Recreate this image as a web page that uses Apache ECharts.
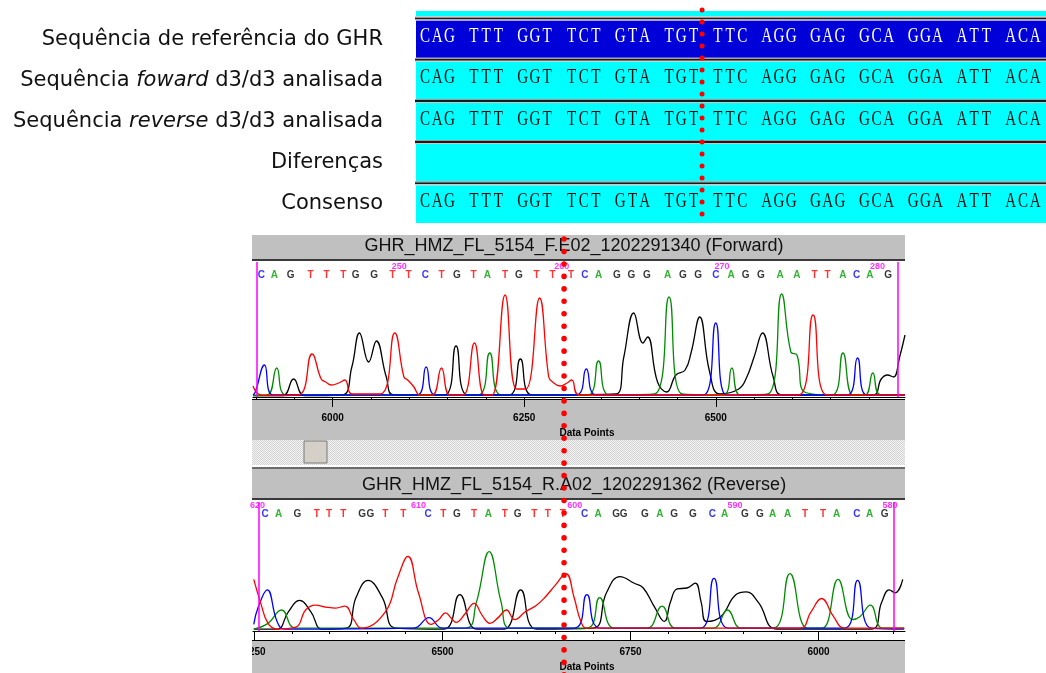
<!DOCTYPE html>
<html><head><meta charset="utf-8">
<script src="https://cdn.jsdelivr.net/npm/echarts@6/dist/echarts.min.js"></script>
<style>html,body{margin:0;padding:0;background:#fff}#c{width:1046px;height:673px}</style>
</head><body><div id="c"></div>
<script>
// ---------------- DATA ----------------
const rowLabels = [
  "Sequência de referência do GHR",
  "Sequência {i|foward} d3/d3 analisada",
  "Sequência {i|reverse} d3/d3 analisada",
  "Diferenças",
  "Consenso"
];
const rowSequences = [
  "CAG TTT GGT TCT GTA TGT TTC AGG GAG GCA GGA ATT ACA",
  "CAG TTT GGT TCT GTA TGT TTC AGG GAG GCA GGA ATT ACA",
  "CAG TTT GGT TCT GTA TGT TTC AGG GAG GCA GGA ATT ACA",
  "",
  "CAG TTT GGT TCT GTA TGT TTC AGG GAG GCA GGA ATT ACA"
];
const alignMarkCol = 23.2;          // column of the red dotted marker in the alignment

const fwdTitle = "GHR_HMZ_FL_5154_F.E02_1202291340 (Forward)";
const revTitle = "GHR_HMZ_FL_5154_R.A02_1202291362 (Reverse)";
const axisName = "Data Points";

const fwdRange = [5896, 6747];
const revRange = [6248, 7115];
const fwdTickValues = [6000, 6250, 6500];
const fwdTickLabels = ["6000", "6250", "6500"];
const revTickValues = [6250, 6500, 6750, 7000];
const revTickLabels = ["6250", "6500", "6750", "6000"];
const fwdMinorTicks = [5900,5950,6000,6050,6100,6150,6200,6250,6300,6350,6400,6450,6500,6550,6600,6650,6700];
const revMinorTicks = [6250,6300,6350,6400,6450,6500,6550,6600,6650,6700,6750,6800,6850,6900,6950,7000,7050,7100];
const fwdBoundaries = [5901, 6738];
const revBoundaries = [6255, 7100];
const fwdMarkDp = 6302;

const fwdBases = "CAGTTTGGTTCTGTATGTTTCAGGGAGGCAGGAATTACAG";
const fwdBasePos = [5907,5924,5945,5971,5992,6014,6030,6054,6078,6099,
                    6121,6142,6162,6184,6202,6225,6243,6266,6287,6311,
                    6329,6347,6371,6390,6410,6437,6457,6477,6500,6520,
                    6539,6559,6584,6606,6629,6646,6666,6684,6701,6725];
const fwdNumLabels = ["250","260","270","280"];
const fwdNumPos = [6087, 6299, 6508, 6711];

const revBases = "CAGTTTGGTTCTGTATGTTTCAGGGAGGCAGGAATTACAG";
const revBasePos = [6264,6282,6307,6333,6349,6368,6393,6404,6424,6448,
                    6481,6501,6519,6542,6561,6583,6600,6622,6640,6660,
                    6689,6707,6731,6741,6769,6789,6808,6833,6859,6875,
                    6902,6922,6939,6959,6982,7006,7024,7051,7068,7088];
const revNumLabels = ["620","610","600","590","580"];
const revNumPos = [6254, 6468, 6676, 6889, 7095];

// Forward traces [data point, signal]
const fwdG = [[5896,1.5],[5935,1.5],[5949,18],[5963,1.5],[6012,2],[6025,30],[6035,64],[6047,35],[6057,56],[6070,20],[6080,2],[6146,2],[6161,51],[6176,2],[6230,2],[6245,38],[6260,2],[6370,3],[6380,40],[6393,84],[6405,54],[6411,60],[6424,15],[6436,5],[6448,22],[6460,27],[6468,45],[6479,80],[6492,25],[6505,3],[6530,8],[6540,19],[6550,40],[6561,64],[6575,20],[6587,2],[6705,2],[6716,18],[6724,22],[6732,20],[6740,40],[6747,62]];
const fwdT = [[5896,11],[5903,3],[5912,1.5],[5955,2],[5973,43],[5985,18],[5991,15],[5998,12],[6008,14],[6016,17],[6025,3],[6062,3],[6081,64],[6093,20],[6098,17],[6106,10],[6114,2],[6130,2],[6142,29],[6153,2],[6170,2],[6185,54],[6198,2],[6208,2],[6225,102],[6240,8],[6252,8],[6270,99],[6282,20],[6287,15],[6297,11],[6306,14],[6312,17],[6322,2],[6608,2],[6627,82],[6645,2],[6747,2]];
const fwdA = [[5896,1.5],[5915,2],[5927,29],[5939,2],[6190,2],[6205,44],[6220,2],[6333,2],[6347,36],[6361,2],[6420,3],[6439,100],[6456,3],[6510,2],[6521,29],[6532,2],[6568,3],[6586,103],[6598,45],[6606,42],[6616,5],[6652,2],[6666,44],[6679,2],[6695,2],[6705,24],[6715,2],[6747,2]];
const fwdC = [[5896,2],[5899,5],[5911,32],[5922,2],[6110,2],[6122,30],[6134,2],[6318,2],[6331,28],[6344,2],[6484,2],[6500,74],[6514,2],[6672,2],[6685,39],[6697,2],[6747,2]];

// Reverse traces [data point, signal]
const revG = [[6249,2],[6280,2],[6295,20],[6310,32],[6325,20],[6340,2],[6372,3],[6385,35],[6401,53],[6420,35],[6438,3],[6502,2],[6523,38],[6545,2],[6582,2],[6604,43],[6625,2],[6700,3],[6718,40],[6736,57],[6755,50],[6767,45],[6782,25],[6795,10],[6803,30],[6812,44],[6825,45],[6836,50],[6844,30],[6851,10],[6870,15],[6890,38],[6904,41],[6920,30],[6945,2],[7070,2],[7084,30],[7094,43],[7102,40],[7112,54]];
const revT = [[6249,54],[6258,30],[6268,8],[6280,2],[6305,4],[6318,22],[6331,27],[6345,25],[6358,24],[6370,26],[6382,12],[6392,3],[6424,20],[6440,55],[6454,78],[6468,40],[6485,7],[6495,12],[6504,19],[6512,13],[6518,9],[6530,18],[6542,29],[6553,16],[6563,8],[6574,14],[6585,22],[6596,12],[6610,20],[6625,27],[6636,35],[6650,48],[6664,60],[6675,35],[6684,10],[6692,3],[6975,3],[6990,20],[7004,34],[7020,15],[7035,3],[7114,3]];
const revA = [[6249,2],[6268,8],[6286,22],[6305,3],[6530,3],[6545,30],[6562,83],[6578,30],[6590,3],[6692,3],[6709,35],[6728,3],[6772,3],[6792,26],[6810,3],[6860,3],[6879,22],[6897,3],[6940,3],[6962,60],[6985,3],[7005,3],[7026,54],[7045,12],[7055,15],[7069,27],[7085,3],[7114,3]];
const revC = [[6249,7],[6255,25],[6267,43],[6280,10],[6290,2],[6462,3],[6482,14],[6500,3],[6675,3],[6692,38],[6710,3],[6843,3],[6861,55],[6880,3],[7035,3],[7052,53],[7070,3],[7114,2]];

// ---------------- STYLE ----------------
const baseColors = {A:'#00a000', C:'#0000ff', G:'#000000', T:'#ff0000'};
const traceColors = {A:'#008c00', C:'#0000ff', G:'#000000', T:'#ff0000'};
const rowFills = ['#0000d8', '#00ffff', '#00ffff', '#00ffff', '#00ffff'];
const rowText = ['#ffffff', '#111111', '#111111', '#111111', '#111111'];

const chart = echarts.init(document.getElementById('c'), null, {renderer: 'canvas'});

function traceSeries(data, color, xi, yi, extra) {
  return Object.assign({
    type: 'line', xAxisIndex: xi, yAxisIndex: yi, data: data,
    showSymbol: false, symbol: 'none', smooth: 0.45, silent: true,
    lineStyle: {color: color, width: 1.3}, z: 3
  }, extra || {});
}
function baseSeries(bases, pos, yVal, xi, yi) {
  return {
    type: 'scatter', xAxisIndex: xi, yAxisIndex: yi, silent: true, symbolSize: 1,
    itemStyle: {color: 'rgba(0,0,0,0)'}, z: 4,
    data: bases.split('').map((b, i) => ({name: b, value: [pos[i], yVal],
      label: {color: baseColors[b]}})),
    label: {show: true, position: 'inside', formatter: p => p.name,
      fontFamily: 'Liberation Sans', fontWeight: 'bold', fontSize: 10}
  };
}
function numSeries(labels, pos, yVal, xi, yi) {
  return {
    type: 'scatter', xAxisIndex: xi, yAxisIndex: yi, silent: true, symbolSize: 1,
    itemStyle: {color: 'rgba(0,0,0,0)'}, z: 4,
    data: labels.map((t, i) => ({name: t, value: [pos[i], yVal]})),
    label: {show: true, position: 'inside', formatter: p => p.name, color: '#ff00ff',
      fontFamily: 'Liberation Sans', fontWeight: 'bold', fontSize: 9}
  };
}
function boundaryLine(vals) {
  return {silent: true, symbol: 'none', animation: false, label: {show: false},
    lineStyle: {color: '#ff00ff', width: 1.5, type: 'solid'},
    data: vals.map(v => ({xAxis: v}))};
}
function minorAxis(grid, range, ticks) {
  return {type: 'value', gridIndex: grid, position: 'bottom', min: range[0], max: range[1],
    axisLine: {show: true, lineStyle: {color: '#000', width: 1}},
    axisTick: {show: true, customValues: ticks, length: 3, lineStyle: {color: '#000'}},
    axisLabel: {show: false}, splitLine: {show: false}};
}
function majorAxis(grid, range, vals, labels) {
  return {type: 'value', gridIndex: grid, position: 'bottom', min: range[0], max: range[1],
    axisLine: {show: false},
    axisTick: {show: true, customValues: vals, length: 10, lineStyle: {color: '#000'}},
    axisLabel: {show: true, customValues: vals, margin: 16,
      formatter: v => labels[vals.indexOf(v)],
      fontFamily: 'Liberation Sans', fontWeight: 'bold', fontSize: 10, color: '#000'},
    splitLine: {show: false},
    name: axisName, nameLocation: 'middle', nameGap: 31,
    nameTextStyle: {fontFamily: 'Liberation Sans', fontWeight: 'bold', fontSize: 10,
      color: '#000', padding: [0, 0, 0, 16]}};
}

const option = {
  animation: false,
  backgroundColor: '#ffffff',
  grid: [
    {left: 415, width: 631, top: 18.5, height: 206},
    {left: 253, width: 652, top: 262, height: 135},
    {left: 253, width: 652, top: 502, height: 135}
  ],
  xAxis: [
    {type: 'value', gridIndex: 0, min: -0.33, max: 51.39, show: false},
    minorAxis(1, fwdRange, fwdMinorTicks),
    majorAxis(1, fwdRange, fwdTickValues, fwdTickLabels),
    minorAxis(2, revRange, revMinorTicks),
    majorAxis(2, revRange, revTickValues, revTickLabels)
  ],
  yAxis: [
    {type: 'category', gridIndex: 0, data: rowLabels, inverse: true,
      axisLine: {show: false}, axisTick: {show: false}, splitLine: {show: false},
      axisLabel: {margin: 32, fontFamily: 'DejaVu Sans', fontSize: 21, color: '#111',
        rich: {i: {fontStyle: 'italic', fontFamily: 'DejaVu Sans', fontSize: 21, color: '#111'}}}},
    {type: 'value', gridIndex: 1, min: 0, max: 135, show: false},
    {type: 'value', gridIndex: 2, min: 0, max: 135, show: false}
  ],
  series: [
    {
      type: 'custom', xAxisIndex: 0, yAxisIndex: 0, silent: true,
      data: rowSequences.map((s, i) => [0, i]),
      encode: {x: 0, y: 1},
      renderItem: function (params, api) {
        const i = params.dataIndex;
        const p = api.coord([0, i]);
        const bandH = api.size([0, 1])[1];
        const cs = params.coordSys;
        const top = p[1] - bandH / 2;
        const ch = [];
        if (i === 0) ch.push({type: 'rect', shape: {x: cs.x + 1, y: top - 7.5, width: cs.width, height: 5}, style: {fill: '#00ffff'}});
        ch.push({type: 'rect', shape: {x: cs.x + 1, y: top + 2, width: cs.width, height: bandH - (i === 4 ? 3.5 : 4)}, style: {fill: rowFills[i]}});
        ch.push({type: 'rect', shape: {x: cs.x, y: top - 1, width: cs.width, height: 2}, style: {fill: '#1a1a1a'}});
        ch.push({type: 'rect', shape: {x: cs.x, y: top + 1, width: cs.width, height: 1}, style: {fill: '#c8c8c8'}});
        ch.push({type: 'rect', shape: {x: cs.x, y: top - 2, width: cs.width, height: 1}, style: {fill: '#9a9a9a'}});
        const seq = rowSequences[i];
        for (let j = 0; j < seq.length; j++) {
          if (seq[j] === ' ') continue;
          const c = api.coord([j + 0.5, i]);
          ch.push({type: 'text', x: c[0], y: c[1] - 2.5, scaleX: 0.72,
            style: {text: seq[j], x: 0, y: 0, fill: rowText[i], fontFamily: 'Liberation Serif',
              fontSize: 21, align: 'center', verticalAlign: 'middle'}});
        }
        return {type: 'group', children: ch};
      }
    },
    traceSeries(fwdG, traceColors.G, 1, 1, {markLine: boundaryLine(fwdBoundaries)}),
    traceSeries(fwdA, traceColors.A, 1, 1),
    traceSeries(fwdC, traceColors.C, 1, 1),
    traceSeries(fwdT, traceColors.T, 1, 1),
    baseSeries(fwdBases, fwdBasePos, 121.5, 1, 1),
    numSeries(fwdNumLabels, fwdNumPos, 130, 1, 1),
    traceSeries(revG, traceColors.G, 3, 2, {markLine: boundaryLine(revBoundaries)}),
    traceSeries(revA, traceColors.A, 3, 2),
    traceSeries(revC, traceColors.C, 3, 2),
    traceSeries(revT, traceColors.T, 3, 2),
    baseSeries(revBases, revBasePos, 122, 3, 2),
    numSeries(revNumLabels, revNumPos, 131, 3, 2)
  ]
};
chart.setOption(option);

// ---------------- window chrome + markers ----------------
const px1 = chart.convertToPixel({xAxisIndex: 0}, alignMarkCol);
const px2 = chart.convertToPixel({xAxisIndex: 1}, fwdMarkDp);

// checkered texture for the scrollbar track
const tex = document.createElement('canvas');
tex.width = 2; tex.height = 2;
const tctx = tex.getContext('2d');
tctx.fillStyle = '#f4f4f4'; tctx.fillRect(0, 0, 2, 2);
tctx.fillStyle = '#d2d2d2'; tctx.fillRect(0, 0, 1, 1); tctx.fillRect(1, 1, 1, 1);

function R(id, x, y, w, h, fill, z, extra) {
  return Object.assign({id: id, type: 'rect', z: z, silent: true, shape: {x: x, y: y, width: w, height: h}, style: {fill: fill}}, extra || {});
}
const elements = [
  R('t1', 252, 235, 653, 24, '#c0c0c0', -5),
  R('t1b', 252, 259, 653, 2, '#3a3a3a', -5),
  R('ax1', 252, 399, 653, 41, '#c0c0c0', -5),
  R('ax1b', 252, 399, 653, 1, '#000000', -4),
  R('sb', 252, 440, 653, 26, '#e4e4e4', -5, {style: {fill: {image: tex, repeat: 'repeat'}}}),
  R('btn', 304, 441, 23, 22, '#d4d0c8', -4, {style: {fill: '#d4d0c8', stroke: '#7a7a7a', lineWidth: 1}}),
  R('sepw', 252, 465, 653, 2, '#ffffff', -5),
  R('sep', 252, 467, 653, 2, '#6a6a6a', -5),
  R('t2', 252, 469, 653, 29, '#c0c0c0', -5),
  R('t2b', 252, 498, 653, 2, '#3a3a3a', -5),
  R('ax2', 252, 640, 653, 33, '#c0c0c0', -5),
  R('ax2b', 252, 640, 653, 1, '#000000', -4),
  R('cut', 0, 628, 252, 45, '#ffffff', 50),
  {id: 'tt1', type: 'text', z: 5, silent: true, x: 574, y: 246,
    style: {text: fwdTitle, fill: '#111', fontFamily: 'Liberation Sans', fontSize: 18, align: 'center', verticalAlign: 'middle'}},
  {id: 'tt2', type: 'text', z: 5, silent: true, x: 574, y: 485,
    style: {text: revTitle, fill: '#111', fontFamily: 'Liberation Sans', fontSize: 18, align: 'center', verticalAlign: 'middle'}},
  {id: 'm1', type: 'line', z: 100, silent: true, shape: {x1: px1, y1: 10, x2: px1, y2: 222},
    style: {stroke: '#ff0000', lineWidth: 5, lineDash: [0.1, 11.9], lineCap: 'round'}},
  {id: 'm2', type: 'line', z: 100, silent: true, shape: {x1: px2, y1: 239, x2: px2, y2: 680},
    style: {stroke: '#ff0000', lineWidth: 5.5, lineDash: [0.1, 12.35], lineCap: 'round'}}
];
chart.setOption({graphic: {elements: elements}});
</script>
</body></html>
